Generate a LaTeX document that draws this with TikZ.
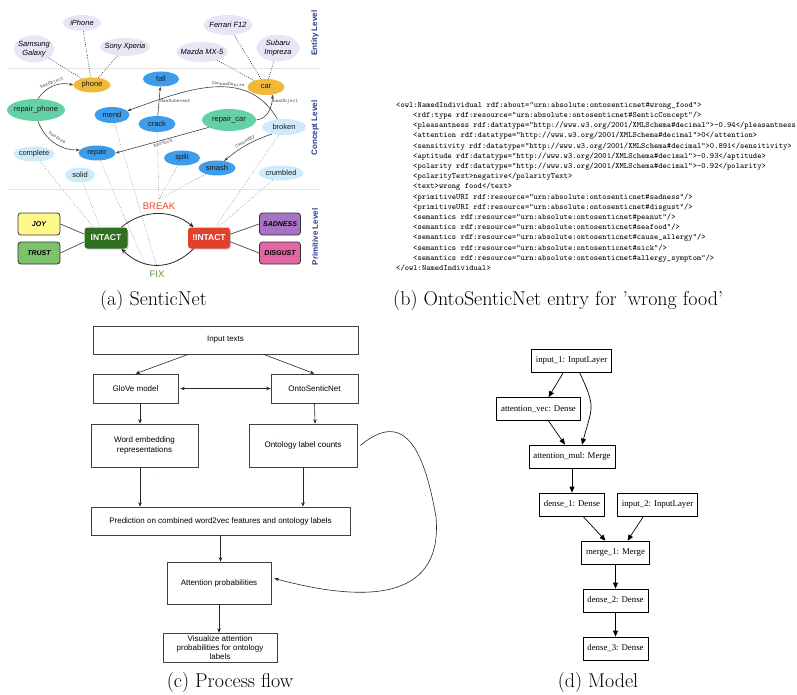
\documentclass[tikz,border=0pt]{standalone}
\usepackage{fontspec}
\usepackage{xcolor}
\usepackage{tikz}
\usetikzlibrary{arrows.meta,arrows}
\usetikzlibrary{positioning,shapes.geometric,shadows}

\newfontfamily\sansfont{Liberation Sans}
\newfontfamily\timesfont{Liberation Serif}

\definecolor{entityfill}{HTML}{E9E5F7}
\definecolor{objfill}{HTML}{F1B83A}
\definecolor{eventfill}{HTML}{3D9CEC}
\definecolor{actfill}{HTML}{63D0A6}
\definecolor{statefill}{HTML}{CDEBFA}
\definecolor{joyfill}{HTML}{FFF98B}
\definecolor{trustfill}{HTML}{7BC26B}
\definecolor{intactfill}{HTML}{2F6F1F}
\definecolor{notintactfill}{HTML}{E1412B}
\definecolor{sadfill}{HTML}{A773C7}
\definecolor{disgustfill}{HTML}{E067A3}
\definecolor{breakred}{HTML}{E8462F}
\definecolor{fixgreen}{HTML}{5C9A3B}
\definecolor{levelblue}{HTML}{2A3A8E}

\begin{document}
\begin{tikzpicture}[
		x = 1pt, y = 1pt, % one unit is one pixel of the figure
		node distance = 48pt % distance between layers of the model
	]
	
	\tikzstyle{entity}=[ellipse, fill = entityfill, inner xsep = -5pt, inner ysep = 0pt,
	align = center, font = \sansfont\itshape\fontsize{7.5}{8.5}\selectfont]
	\tikzstyle{concept}=[ellipse, inner xsep = -5pt, inner ysep = 0pt,
	minimum width = 37pt, minimum height = 15pt, text = black!90,
	font = \sansfont\fontsize{7.5}{8.5}\selectfont]
	\tikzstyle{prim}=[rectangle, rounded corners = 3pt, draw = black!80, line width = 0.8pt,
	minimum width = 42pt, minimum height = 22pt, inner sep = 0pt,
	font = \sansfont\bfseries\itshape\fontsize{7}{8}\selectfont]
	\tikzstyle{primstate}=[rectangle, rounded corners = 3pt, minimum width = 43pt,
	minimum height = 21pt, inner sep = 0pt, text = white,
	font = \sansfont\bfseries\fontsize{8.5}{9}\selectfont,
	drop shadow = {opacity = 0.35, shadow xshift = 1pt, shadow yshift = -1.2pt}]
	\tikzstyle{levelname}=[rotate = 90, text = levelblue, font = \sansfont\bfseries\fontsize{8}{9}\selectfont]
	\tikzstyle{rel}=[-{Stealth[length = 4pt, width = 3pt]}, draw = black!75, line width = 0.6pt]
	\tikzstyle{elabel}=[font = \ttfamily\fontsize{5.2}{6}\selectfont, text = black!70, inner sep = 1pt]
	\tikzstyle{entitylink}=[draw = black!85, line width = 0.6pt, dash pattern = on 0.8pt off 1.4pt]
	\tikzstyle{primlink}=[draw = black!55, line width = 0.5pt, dash pattern = on 0.6pt off 1.6pt]
	\tikzstyle{primline}=[draw = black!65, line width = 0.8pt]
	\tikzstyle{primarc}=[-{Stealth[length = 5pt, width = 4pt]}, draw = black!85, line width = 0.8pt]
	\tikzstyle{sepline}=[draw = black!10, line width = 0.6pt]
	
	\tikzstyle{xmlline}=[anchor = base west, inner sep = 0pt, font = \ttfamily\fontsize{8.1}{9.5}\selectfont]
	
	\tikzstyle{flowbox}=[rectangle, draw = black!75, line width = 0.6pt, inner sep = 0pt,
	align = center, font = \sansfont\fontsize{8}{9.6}\selectfont]
	\tikzstyle{flow}=[-{Stealth[length = 4.5pt, width = 3.5pt]}, draw = black!85, line width = 0.6pt]
	\tikzstyle{dotmark}=[inner sep = 0pt, text = black!50, font = \sansfont\fontsize{5}{5}\selectfont]
	
	\tikzstyle{kerasbox}=[rectangle, draw = black, line width = 0.7pt, minimum height = 23pt,
	inner xsep = 4.5pt, font = \timesfont\fontsize{8.8}{10}\selectfont]
	\tikzstyle{kerasarrow}=[-{Triangle[length = 6pt, width = 5pt]}, draw = black, line width = 0.7pt]
	
	\tikzstyle{subcap}=[anchor = base, inner sep = 0pt, font = \fontsize{20}{24}\selectfont]
	
	\useasboundingbox (0,0) rectangle (797,-695);
	
	% (a) levels
	\draw[sepline] (8,-68) -- (320,-68);
	\draw[sepline] (8,-189) -- (320,-189);
	\node[levelname] (entitylvl) at (315,-33) {Entity Level};
	\node[levelname] (conceptlvl) at (315,-128) {Concept Level};
	\node[levelname] (primlvl) at (315,-237) {Primitive Level};
	
	% entities
	\node[entity, minimum width = 40pt, minimum height = 27pt] (samsung) at (34,-49) {Samsung\\Galaxy};
	\node[entity, minimum width = 38pt, minimum height = 16pt] (iphone) at (82,-23) {iPhone};
	\node[entity, minimum width = 50pt, minimum height = 18pt] (sony) at (125,-47) {Sony Xperia};
	\node[entity, minimum width = 49pt, minimum height = 20pt] (ferrari) at (228,-25) {Ferrari F12};
	\node[entity, minimum width = 51pt, minimum height = 20pt] (mazda) at (202,-52) {Mazda MX-5};
	\node[entity, minimum width = 43pt, minimum height = 27pt] (subaru) at (278,-48) {Subaru\\Impreza};
	
	% concepts
	\node[concept, fill = objfill] (phone) at (92,-85) {phone};
	\node[concept, fill = objfill, minimum height = 16pt] (car) at (266,-87) {car};
	\node[concept, fill = eventfill, minimum width = 36pt] (fall) at (161,-79) {fall};
	\node[concept, fill = actfill, minimum width = 58pt, minimum height = 22pt] (repairphone) at (36,-110) {repair\_phone};
	\node[concept, fill = eventfill, minimum width = 35pt, minimum height = 16pt] (mend) at (112,-115) {mend};
	\node[concept, fill = eventfill, minimum height = 16pt] (crack) at (157,-124) {crack};
	\node[concept, fill = actfill, minimum width = 54pt, minimum height = 22pt] (repaircar) at (229,-120) {repair\_car};
	\node[concept, fill = statefill, minimum width = 44pt, minimum height = 16pt] (broken) at (284,-127) {broken};
	\node[concept, fill = eventfill] (repair) at (97,-153) {repair};
	\node[concept, fill = statefill, minimum width = 41pt] (complete) at (34,-154) {complete};
	\node[concept, fill = statefill, minimum width = 30pt] (solid) at (80,-175) {solid};
	\node[concept, fill = eventfill, minimum width = 36pt] (split) at (182,-158) {split};
	\node[concept, fill = eventfill] (smash) at (217,-168) {smash};
	\node[concept, fill = statefill, minimum width = 45pt] (crumbled) at (281,-173) {crumbled};
	
	% primitives
	\node[prim, fill = joyfill] (joy) at (39,-224) {JOY};
	\node[prim, fill = trustfill] (trust) at (39,-253) {TRUST};
	\node[primstate, fill = intactfill] (intact) at (106,-238) {INTACT};
	\node[primstate, fill = notintactfill, minimum width = 42pt] (notintact) at (209,-238) {!INTACT};
	\node[prim, fill = sadfill, minimum width = 41pt] (sadness) at (280,-224) {SADNESS};
	\node[prim, fill = disgustfill, minimum width = 41pt] (disgust) at (280,-253) {DISGUST};
	\node[text = breakred, font = \sansfont\fontsize{9.5}{10}\selectfont] (breaklbl) at (159,-206) {BREAK};
	\node[text = fixgreen, font = \sansfont\fontsize{9.5}{10}\selectfont] (fixlbl) at (157,-274) {FIX};
	
	\path (samsung) edge[entitylink] (phone) (iphone) edge[entitylink] (phone) (sony) edge[entitylink] (phone);
	\path (mazda) edge[entitylink] (car) (ferrari) edge[entitylink] (car) (subaru) edge[entitylink] (car);
	
	\path (repairphone.80) edge[rel, bend left = 35] node[elabel, sloped, above] {hasObject} (phone.west);
	\path (repairphone.-80) edge[rel, bend right = 35] node[elabel, sloped, above = 3pt] {hasVerb} (repair.170);
	\path (crack) edge[rel] node[elabel, right] {HasSubevent} (fall);
	\path (broken.130) edge[rel, out = 120, in = 20, looseness = 1.05] node[elabel, sloped, above, pos = 0.4] {CausesDesire} (mend.15);
	\path (repaircar.east) edge[rel, out = 5, in = -90] node[elabel, right, pos = 0.8] {hasObject} (car.-50);
	\path (repaircar.200) edge[rel] node[elabel, sloped, below] {hasVerb} (repair.east);
	\path (broken.210) edge[rel, bend right = 10] node[elabel, sloped, above] {CausedBy} (smash.45);
	
	\path (complete) edge[primlink] (intact.140) (solid) edge[primlink] (intact.120);
	\path (mend) edge[primlink] (fixlbl.north) (repair) edge[primlink] (fixlbl.north west);
	\path (crack) edge[primlink] (breaklbl.north) (split) edge[primlink] (breaklbl.north) (smash) edge[primlink] (breaklbl.north);
	\path (broken) edge[primlink] (notintact.60) (crumbled) edge[primlink] (notintact.50);
	
	\path (joy.east) edge[primline] (intact.170) (trust.east) edge[primline] (intact.190);
	\path (sadness.west) edge[primline] (notintact.10) (disgust.west) edge[primline] (notintact.-10);
	\path (intact.35) edge[primarc, bend left = 40] (notintact.145);
	\path (notintact.-145) edge[primarc, bend left = 45, looseness = 1.1] (intact.-35);
	
	% (b) entry
	\node[xmlline] (xml1) at (396,-107.3) {<owl:NamedIndividual rdf:about="urn:absolute:ontosenticnet\#wrong\_food">};
	\node[xmlline] (xml2) at (413,-117.5) {<rdf:type rdf:resource="urn:absolute:ontosenticnet\#SenticConcept"/>};
	\node[xmlline] (xml3) at (413,-127.7) {<pleasantness rdf:datatype="http://www.w3.org/2001/XMLSchema\#decimal">-0.94</pleasantness};
	\node[xmlline] (xml4) at (413,-137.9) {<attention rdf:datatype="http://www.w3.org/2001/XMLSchema\#decimal">0</attention>};
	\node[xmlline] (xml5) at (413,-148.1) {<sensitivity rdf:datatype="http://www.w3.org/2001/XMLSchema\#decimal">0.891</sensitivity>};
	\node[xmlline] (xml6) at (413,-158.3) {<aptitude rdf:datatype="http://www.w3.org/2001/XMLSchema\#decimal">-0.93</aptitude>};
	\node[xmlline] (xml7) at (413,-168.5) {<polarity rdf:datatype="http://www.w3.org/2001/XMLSchema\#decimal">-0.92</polarity>};
	\node[xmlline] (xml8) at (413,-178.7) {<polarityText>negative</polarityText>};
	\node[xmlline] (xml9) at (413,-188.9) {<text>wrong food</text>};
	\node[xmlline] (xml10) at (413,-199.1) {<primitiveURI rdf:resource="urn:absolute:ontosenticnet\#sadness"/>};
	\node[xmlline] (xml11) at (413,-209.3) {<primitiveURI rdf:resource="urn:absolute:ontosenticnet\#disgust"/>};
	\node[xmlline] (xml12) at (413,-219.5) {<semantics rdf:resource="urn:absolute:ontosenticnet\#peanut"/>};
	\node[xmlline] (xml13) at (413,-229.7) {<semantics rdf:resource="urn:absolute:ontosenticnet\#seafood"/>};
	\node[xmlline] (xml14) at (413,-239.9) {<semantics rdf:resource="urn:absolute:ontosenticnet\#cause\_allergy"/>};
	\node[xmlline] (xml15) at (413,-250.1) {<semantics rdf:resource="urn:absolute:ontosenticnet\#sick"/>};
	\node[xmlline] (xml16) at (413,-260.3) {<semantics rdf:resource="urn:absolute:ontosenticnet\#allergy\_symptom"/>};
	\node[xmlline] (xml17) at (396,-270.5) {</owl:NamedIndividual>};
	
	% (c) process flow
	\node[flowbox, minimum width = 265pt, minimum height = 28pt] (input) at (225.5,-340) {Input texts};
	\node[flowbox, minimum width = 85pt, minimum height = 29pt] (glove) at (135.5,-388.5) {GloVe model};
	\node[flowbox, minimum width = 87pt, minimum height = 29pt] (onto) at (314.5,-388.5) {OntoSenticNet};
	\node[flowbox, minimum width = 107pt, minimum height = 43pt] (wordemb) at (144.5,-445.5) {Word embedding\\representations};
	\node[flowbox, minimum width = 108pt, minimum height = 43pt] (ontcount) at (303,-445.5) {Ontology label counts};
	\node[flowbox, minimum width = 259pt, minimum height = 28pt] (pred) at (220.5,-521) {Prediction on combined word2vec features and ontology labels};
	\node[flowbox, minimum width = 104pt, minimum height = 42pt] (attn) at (219,-583) {Attention probabilities};
	\node[flowbox, minimum width = 114pt, minimum height = 29pt, font = \sansfont\fontsize{8}{9}\selectfont] (visual) at (220,-647.5) {Visualize attention\\probabilities for ontology\\labels};
	\node[dotmark] (dota) at (125,-433) {.};
	\node[dotmark] (dotb) at (279,-433) {.};
	\node[dotmark] (dotc) at (156,-476) {.};
	\node[dotmark] (dotd) at (309,-476) {.};
	\coordinate (loopright) at (436,-517);
	
	\path ([xshift = -37pt]input.south) edge[flow] (glove.north) ([xshift = 38pt]input.south) edge[flow] (onto.north);
	\path (glove.east) edge[flow, {Stealth[length = 4.5pt, width = 3.5pt]}-{Stealth[length = 4.5pt, width = 3.5pt]}, shorten <= 2pt] (onto.west);
	\path ([xshift = 4.5pt]glove.south) edge[flow] ([xshift = -4.5pt]wordemb.north);
	\path (onto.south) edge[flow] ([xshift = 12pt]ontcount.north);
	\path ([xshift = -4.5pt]wordemb.south) edge[flow] ([xshift = -80.5pt]pred.north);
	\path (ontcount.south) edge[flow] ([xshift = 82.5pt]pred.north);
	\path (pred.south) edge[flow] (pred.south |- attn.north);
	\path (attn.south) edge[flow] (attn.south |- visual.north);
	\draw[flow] ([xshift = 3pt]ontcount.east) to[out = 40, in = 100, looseness = 1.5] (loopright)
		to[out = -85, in = -15, looseness = 1.3] ([xshift = 3pt]attn.5);
	
	% (d) model
	\node[kerasbox] (input1) at (571.5,-360.5) {input\_1: InputLayer};
	\node[kerasbox] (attvec) at (538.5,-409) {attention\_vec: Dense};
	\node[kerasbox] (attmul) at (572,-456.5) {attention\_mul: Merge};
	\node[kerasbox, below of = attmul] (dense1) {dense\_1: Dense};
	\node[kerasbox, right = 12pt of dense1] (input2) {input\_2: InputLayer};
	\node[kerasbox] (merge1) at (615.5,-552.5) {merge\_1: Merge};
	\node[kerasbox, below of = merge1] (dense2) {dense\_2: Dense};
	\node[kerasbox, below of = dense2] (dense3) {dense\_3: Dense};
	
	\path ([xshift = -8pt]input1.south) edge[kerasarrow] ([xshift = 10pt]attvec.north)
		([xshift = 8pt]input1.south) edge[kerasarrow, out = -65, in = 75, looseness = 1.4] ([xshift = 10pt]attmul.north)
		([xshift = 10pt]attvec.south) edge[kerasarrow] ([xshift = -7pt]attmul.north)
		(attmul) edge[kerasarrow] (dense1)
		([xshift = 11pt]dense1.south) edge[kerasarrow] ([xshift = -10pt]merge1.north)
		([xshift = -14pt]input2.south) edge[kerasarrow] ([xshift = 12pt]merge1.north)
		(merge1) edge[kerasarrow] (dense2)
		(dense2) edge[kerasarrow] (dense3);
	
	% captions
	\node[subcap] (capa) at (153.5,-305) {(a) SenticNet};
	\node[subcap, anchor = base west] (capb) at (393,-305) {(b) OntoSenticNet entry for 'wrong food'};
	\node[subcap] (capc) at (230,-687) {(c) Process flow};
	\node[subcap] (capd) at (598,-687) {(d) Model};
\end{tikzpicture}
\end{document}
